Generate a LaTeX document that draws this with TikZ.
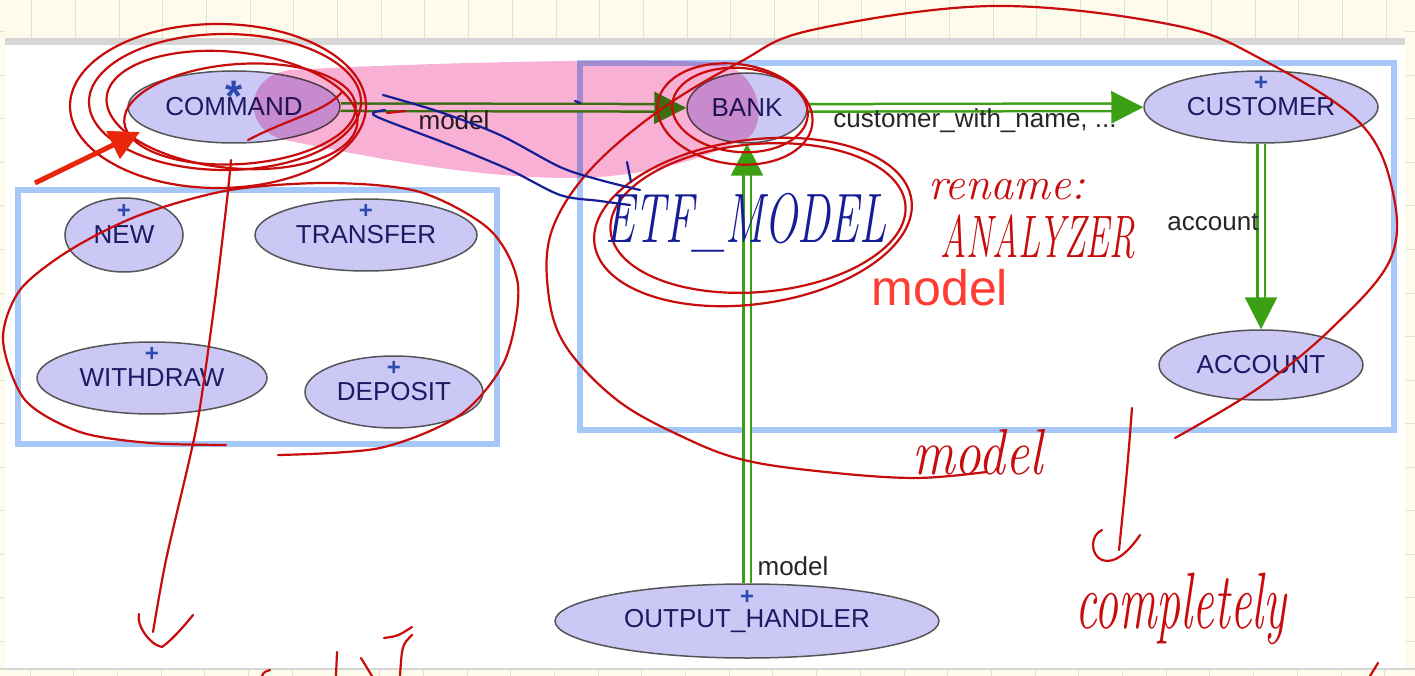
\documentclass[tikz,border=0pt]{standalone}
\usepackage{fontspec}
\usepackage{graphicx}
\newfontfamily\diagfont{Liberation Sans}
\usetikzlibrary{shapes.geometric}
\usetikzlibrary{arrows.meta}
\definecolor{papercream}{RGB}{253,251,236}
\definecolor{paperline}{RGB}{228,225,208}
\definecolor{bargray}{RGB}{214,214,214}
\definecolor{classfill}{RGB}{203,200,246}
\definecolor{classedge}{RGB}{85,85,85}
\definecolor{classtext}{RGB}{30,25,100}
\definecolor{markblue}{RGB}{45,75,175}
\definecolor{clusterblue}{RGB}{166,200,248}
\definecolor{clientgreen}{RGB}{60,160,20}
\definecolor{clusterred}{RGB}{255,60,50}
\definecolor{highlighter}{RGB}{249,176,213}
\definecolor{redink}{RGB}{200,12,12}
\definecolor{blueink}{RGB}{22,30,150}
\definecolor{arrowred}{RGB}{232,38,12}
\tikzset{
	classstyle/.style={ellipse, draw=classedge, line width=1.5pt, fill=classfill, text=classtext, inner sep=0pt, font=\diagfont\fontsize{26}{28}\selectfont},
	markstyle/.style={text=markblue, inner sep=0pt, font=\diagfont\bfseries\fontsize{24}{24}\selectfont},
	deferredmark/.style={text=markblue, inner sep=0pt, font=\diagfont\bfseries\fontsize{44}{44}\selectfont},
	clusterstyle/.style={draw=clusterblue, line width=6pt},
	clientstyle/.style={draw=clientgreen, line width=2.5pt, double=white, double distance=5pt, -{Triangle[length=32pt,width=32pt]}},
	edgelabel/.style={inner sep=0pt, text=black!85, font=\diagfont\fontsize{26}{28}\selectfont},
	redstroke/.style={draw=redink, line width=2.2pt, line cap=round, line join=round},
	bluestroke/.style={draw=blueink, line width=2.2pt, line cap=round, line join=round},
	handred/.style={inner sep=0pt, text=redink, font=\itshape},
	handblue/.style={inner sep=0pt, text=blueink, font=\itshape}
}

\begin{document}
\begin{tikzpicture}[x=1pt, y=-1pt]
	\useasboundingbox (0,0) rectangle (1415,676);
	% note paper
	\fill[papercream] (0,0) rectangle (1415,676);
	\foreach \k in {0,...,32} {
		\draw[paperline, line width=1pt] ({31.6+43.7*\k},0) -- ++(0,38);
		\draw[paperline, line width=1pt] ({30+43.7*\k},669) -- ++(0,7);
	}
	\foreach \k in {0,...,15} {
		\draw[paperline, line width=1pt] (0,{32+43.5*\k}) -- ++(5,0);
		\draw[paperline, line width=1pt] (1405,{32+43.5*\k}) -- ++(10,0);
	}
	\fill[bargray] (5,38) rectangle (1405,45);
	\fill[white] (5,45) rectangle (1405,668);
	\draw[bargray, line width=1.5pt] (0,669) -- (1415,669);

	% clusters
	\draw[clusterstyle] (18,190) rectangle (497,444);
	\draw[clusterstyle] (580,63) rectangle (1394,430);
	\node[text=clusterred, inner sep=0pt, font=\diagfont\fontsize{50}{50}\selectfont] (modeltitle) at (940,288) {model};

	% classes
	\node[classstyle, minimum width=212pt, minimum height=72pt] (command) at (234,107) {COMMAND};
	\node[classstyle, minimum width=118pt, minimum height=74pt] (new) at (124,235) {NEW};
	\node[classstyle, minimum width=222pt, minimum height=72pt] (transfer) at (366,235) {TRANSFER};
	\node[classstyle, minimum width=230pt, minimum height=72pt] (withdraw) at (152,378) {WITHDRAW};
	\node[classstyle, minimum width=178pt, minimum height=72pt] (deposit) at (394,392) {DEPOSIT};
	\node[classstyle, minimum width=120pt, minimum height=70pt] (bank) at (747,108) {BANK};
	\node[classstyle, minimum width=234pt, minimum height=72pt] (customer) at (1261,107) {CUSTOMER};
	\node[classstyle, minimum width=204pt, minimum height=70pt] (account) at (1261,365) {ACCOUNT};
	\node[classstyle, minimum width=384pt, minimum height=74pt] (handler) at (747,621) {OUTPUT\_HANDLER};
	\node[deferredmark] at ([yshift=21pt]command.center) {\raisebox{-0.42em}[0.3em][0pt]{*}};
	\foreach \n in {new,transfer,withdraw,deposit,customer,handler}
		\node[markstyle] at ([yshift=24pt]\n.center) {+};

	% client relations
	\draw[clientstyle] (command) -- (bank);
	\draw[clientstyle] (bank) -- (customer);
	\draw[clientstyle] (handler) -- (bank);
	\draw[clientstyle] (customer) -- (account);
	\node[edgelabel] (lcommand) at (454,120) {model};
	\node[edgelabel] (lbank) at (975,121) {customer\_with\_name, ...};
	\node[edgelabel] (lcustomer) at (1213,222) {account};
	\node[edgelabel] (lhandler) at (793,566) {model};

	% highlighter
	\begin{scope}[blend mode=multiply]
		\fill[highlighter] (290,70) .. controls (400,64) and (600,58) .. (712,62)
			.. controls (765,66) and (772,138) .. (737,142)
			.. controls (700,160) and (640,178) .. (570,178)
			.. controls (470,178) and (360,155) .. (285,140)
			.. controls (240,130) and (245,75) .. (290,70) -- cycle;
	\end{scope}

	% red ink
	\draw[redstroke] (218,106) ellipse [x radius=148, y radius=82];
	\draw[redstroke] (225,102) ellipse [x radius=136, y radius=68];
	\draw[redstroke, rotate around={-6:(232,110)}] (232,110) ellipse [x radius=126, y radius=58];
	\draw[redstroke, rotate around={4:(240,114)}] (240,114) ellipse [x radius=116, y radius=50];
	\draw[redstroke] (248,140) .. controls (290,118) and (325,112) .. (342,92);
	\draw[redstroke] (387,113) -- (405,111);
	\draw[draw=arrowred, line width=5pt, -{Triangle[length=30pt,width=30pt]}] (35,183) -- (140,132);
	\draw[redstroke] plot[smooth] coordinates {(231,160) (227,200) (215,300) (200,407) (190,457) (166,560) (153,632)};
	\draw[redstroke] (139,614) .. controls (136,625) and (150,645) .. (162,647) .. controls (172,640) and (185,625) .. (193,615);
	\draw[redstroke] plot[smooth] coordinates {(226,445) (150,443) (80,432) (25,400) (3,340) (20,290) (70,250) (140,215) (230,190) (330,183) (420,192) (490,230) (518,285) (505,360) (460,415) (380,448) (278,455)};
	\draw[redstroke, rotate around={-8:(735,114)}] (735,114) ellipse [x radius=78, y radius=50];
	\draw[redstroke, rotate around={-5:(740,110)}] (740,110) ellipse [x radius=68, y radius=42];
	\draw[redstroke, rotate around={8:(753,222)}] (753,222) ellipse [x radius=160, y radius=82];
	\draw[redstroke, rotate around={5:(758,218)}] (758,218) ellipse [x radius=148, y radius=74];
	\draw[redstroke] plot[smooth, tension=0.6] coordinates {(1175,438) (1260,387) (1333,327) (1390,260) (1393,193) (1360,123) (1263,60) (1173,25) (993,6) (812,30) (740,62) (660,110) (590,170) (552,230) (548,290) (565,345) (617,400) (683,437) (744,460) (826,472) (915,478) (986,472)};
	\node[handred, anchor=base west] (handmodel) at (912,474) {\scalebox{0.82}[1]{\fontsize{65}{65}\selectfont model}};
	\node[handred, anchor=base west] (rename) at (928,200) {\fontsize{46}{46}\selectfont rename:};
	\node[handred, anchor=base west] (analyzer) at (940,258) {\scalebox{0.6}[1]{\fontsize{60}{60}\selectfont ANALYZER}};
	\draw[redstroke] plot[smooth] coordinates {(1132,408) (1127,470) (1119,550)};
	\draw[redstroke] (1140,535) .. controls (1130,550) and (1115,565) .. (1102,560) .. controls (1090,555) and (1090,535) .. (1102,530);
	\node[handred, anchor=base west] (completely) at (1075,628) {\scalebox{0.6}[1]{\fontsize{80}{80}\selectfont completely}};
	\draw[redstroke] (262,676) .. controls (264,672) .. (270,670);
	\draw[redstroke] (337,652) -- (336,676);
	\draw[redstroke] (361,658) -- (372,676);
	\draw[redstroke] (384,638) .. controls (398,636) .. (412,627);
	\draw[redstroke] (412,635) .. controls (402,645) .. (400,676);
	\draw[redstroke] (1378,663) -- (1370,676);

	% blue ink
	\draw[bluestroke] plot[smooth] coordinates {(383,95) (440,112) (500,135) (560,167) (600,180) (640,190)};
	\draw[bluestroke] plot[smooth] coordinates {(385,110) (373,113) (382,119) (450,145) (510,170) (560,195) (600,201) (630,205)};
	\draw[bluestroke] (575,101) -- (580,103);
	\draw[bluestroke] (627,162) -- (631,182);
	\node[handblue, anchor=base west] (etfmodel) at (605,243) {\scalebox{0.63}[1]{\fontsize{70}{70}\selectfont ETF\_MODEL}};
\end{tikzpicture}
\end{document}
